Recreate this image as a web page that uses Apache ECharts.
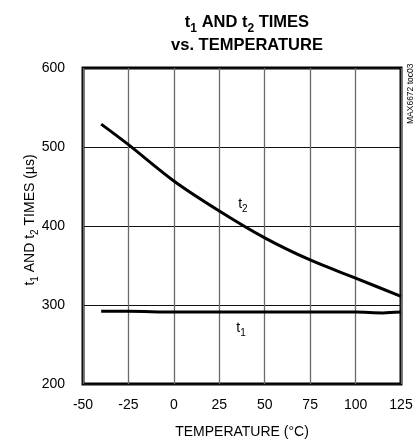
<!DOCTYPE html>
<html>
<head>
<meta charset="utf-8">
<script src="https://cdn.jsdelivr.net/npm/echarts@6/dist/echarts.min.js"></script>
<style>
html,body{margin:0;padding:0;background:#fff;}
#c{width:420px;height:445px;}
</style>
</head>
<body>
<div id="c"></div>
<script>
var temps = [-40, -25, 0, 25, 50, 75, 100, 125];
var t2Values = [529, 503, 457, 419, 385, 357, 334, 311];
var t1Temps = [-40, -25, 0, 25, 50, 75, 100, 115, 125];
var t1Values = [292, 292, 291, 291, 291, 291, 291, 290, 291];
var xTicks = [-50, -25, 0, 25, 50, 75, 100, 125];
var yTicks = [200, 300, 400, 500, 600];
var t2LabelPos = [38, 430];
var t1LabelPos = [37, 273];

var font = 'Liberation Sans, Arial, sans-serif';
var chart = echarts.init(document.getElementById('c'), null, {renderer: 'canvas'});

function pairs(xs, ys) { return xs.map(function (x, i) { return [x, ys[i]]; }); }
function subRich(size) {
  return {
    n: {fontFamily: font, fontSize: size, color: '#000', verticalAlign: 'bottom', lineHeight: 18},
    s: {fontFamily: font, fontSize: Math.round(size * 0.68), color: '#000', verticalAlign: 'bottom', lineHeight: 18, padding: [0, 0, -3, 0]}
  };
}
function markLabel(sub, pos) {
  return {
    symbol: 'circle', symbolSize: 1,
    itemStyle: {color: 'rgba(0,0,0,0)'},
    label: {show: true, position: 'inside', formatter: '{n|t}{s|' + sub + '}', rich: subRich(14)},
    data: [{coord: pos}]
  };
}

chart.setOption({
  animation: false,
  backgroundColor: '#fff',
  title: {
    left: 242, top: 3, textAlign: 'center',
    text: '{b|t}{s|1}{b| AND t}{s|2}{b| TIMES}\n{b|vs. TEMPERATURE}',
    textStyle: {
      fontFamily: font,
      rich: {
        b: {fontFamily: font, fontSize: 16.5, fontWeight: 'bold', color: '#000', lineHeight: 23, verticalAlign: 'bottom'},
        s: {fontFamily: font, fontSize: 12, fontWeight: 'bold', color: '#000', lineHeight: 23, verticalAlign: 'bottom', padding: [0, 0, -4, 0]}
      }
    }
  },
  grid: {left: 83, right: 19, top: 68, bottom: 61, containLabel: false,
    show: true, borderColor: '#000', borderWidth: 3},
  xAxis: {
    type: 'value', min: xTicks[0], max: xTicks[xTicks.length - 1], interval: 25,
    name: 'TEMPERATURE (°C)', nameLocation: 'middle', nameGap: 41,
    nameTextStyle: {fontFamily: font, fontSize: 14, color: '#000'},
    axisLine: {show: false}, axisTick: {show: false},
    axisLabel: {fontFamily: font, fontSize: 14, color: '#000', margin: 14},
    splitLine: {show: true, lineStyle: {color: '#6a6a6a', width: 1.3}}
  },
  yAxis: {
    type: 'value', min: yTicks[0], max: yTicks[yTicks.length - 1], interval: 100,
    name: '{n|t}{s|1}{n| AND t}{s|2}{n| TIMES (µs)}', nameLocation: 'middle', nameGap: 46, nameRotate: 90,
    nameMoveOverlap: false,
    nameTextStyle: {fontFamily: font, fontSize: 14, color: '#000', rich: subRich(14), padding: [0, 0, 0, 12]},
    axisLine: {show: false}, axisTick: {show: false},
    axisLabel: {fontFamily: font, fontSize: 14, color: '#000', margin: 18},
    splitLine: {show: true, lineStyle: {color: '#111', width: 1}}
  },
  series: [
    {
      name: 't2', type: 'line', smooth: 0.3, symbol: 'none',
      data: pairs(temps, t2Values),
      lineStyle: {color: '#000', width: 3},
      markPoint: markLabel(2, t2LabelPos)
    },
    {
      name: 't1', type: 'line', smooth: 0.3, symbol: 'none',
      data: pairs(t1Temps, t1Values),
      lineStyle: {color: '#000', width: 3},
      markPoint: markLabel(1, t1LabelPos)
    }
  ],
  graphic: [{
    type: 'text', x: 406, y: 124, rotation: Math.PI / 2,
    style: {text: 'MAX6672 toc03', font: '8.5px ' + font, fill: '#000', textAlign: 'left', textVerticalAlign: 'top'}
  }]
});
</script>
</body>
</html>
